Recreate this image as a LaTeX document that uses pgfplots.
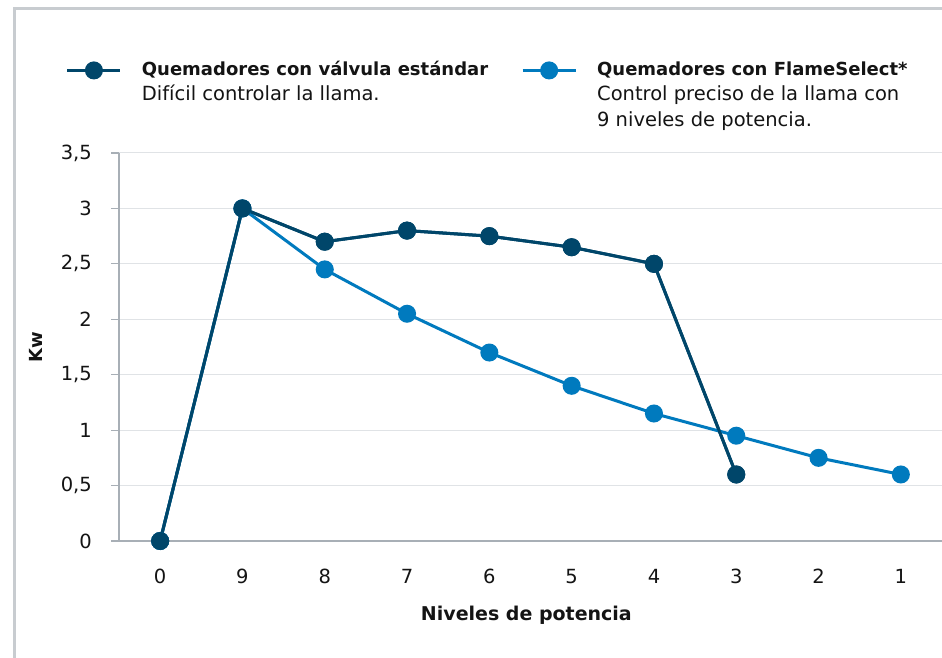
\documentclass[border=0pt]{standalone}
\usepackage{pgfplots}
\pgfplotsset{compat=1.18}
\usepackage{fontspec}
\setmainfont{DejaVu Sans}
\definecolor{darkS}{RGB}{0,70,106}
\definecolor{lightS}{RGB}{0,122,190}
\definecolor{framegray}{RGB}{200,204,208}
\definecolor{axisgray}{RGB}{168,175,182}
\definecolor{gridgray}{RGB}{224,227,230}
\definecolor{txt}{RGB}{20,20,20}
\begin{document}
\begin{tikzpicture}
\useasboundingbox (0,0) rectangle (942pt,658pt);
\fill[white] (0,0) rectangle (942pt,658pt);
\draw[framegray, line width=3pt] (14pt,0pt) -- (14pt,649.5pt) -- (942pt,649.5pt);
\begin{axis}[
  at={(119pt,117pt)}, anchor=south west, scale only axis,
  width=823pt, height=388pt,
  xmin=-0.5, xmax=9.5, ymin=0, ymax=3.5,
  clip=false,
  axis x line*=bottom, axis y line*=left,
  axis line style={axisgray, line width=1.2pt},
  xtick={0,1,2,3,4,5,6,7,8,9},
  xticklabels={0,9,8,7,6,5,4,3,2,1},
  ytick={0,0.5,1,1.5,2,2.5,3,3.5},
  tick align=outside, major tick length=8pt,
  xtick style={draw=none},
  ytick style={axisgray, line width=1.2pt},
  ymajorgrids, major grid style={gridgray, line width=1pt},
  /pgf/number format/assume math mode=true,
  /pgf/number format/use comma,
  ticklabel style={font=\fontsize{19.5}{23}\selectfont, text=txt},
  yticklabel style={inner sep=0pt, anchor=east, xshift=-19pt},
  xticklabel style={inner sep=0pt, anchor=north, yshift=-20pt},
  xlabel={Niveles de potencia},
  xlabel style={font=\fontsize{19}{23}\selectfont\bfseries, text=txt, at={(axis description cs:0.495,0)}, anchor=base, yshift=-80pt},
  ylabel={Kw},
  ylabel style={font=\fontsize{18}{21}\selectfont\bfseries, text=txt, at={(axis description cs:-0.1009,0.5)}, anchor=center, rotate=0},
  legend columns=2,
  legend style={draw=none, fill=none, at={(axis description cs:-0.0645,1.2459)}, anchor=north west,
    inner sep=0pt, outer sep=0pt, cells={anchor=base west}, nodes={inner sep=0pt, text=txt},
    /tikz/every odd column/.append style={column sep=20pt},
    /tikz/every even column/.append style={column sep=33pt}},
  legend image code/.code={\draw[mark repeat=2,mark phase=2,#1] plot coordinates {(0pt,5pt) (26.5pt,5pt) (53pt,5pt)};},
]
\addplot[darkS, line width=3pt, mark=*, mark size=7.5pt, mark options={solid, draw=none, fill=darkS}]
  coordinates {(0,0) (1,3) (2,2.7) (3,2.8) (4,2.75) (5,2.65) (6,2.5) (7,0.6)};
\addlegendentry{{\fontsize{19.5}{25.5}\selectfont\begin{tabular}[t]{@{}l@{}}\fontsize{18}{25.5}\selectfont\bfseries Quemadores con válvula estándar\\ Difícil controlar la llama.\end{tabular}}}
\addplot[lightS, line width=3pt, mark=*, mark size=7.5pt, mark options={solid, draw=none, fill=lightS}]
  coordinates {(0,0) (1,3) (2,2.45) (3,2.05) (4,1.7) (5,1.4) (6,1.15) (7,0.95) (8,0.75) (9,0.6)};
\addlegendentry{{\fontsize{19.5}{25.5}\selectfont\begin{tabular}[t]{@{}l@{}}\fontsize{18}{25.5}\selectfont\bfseries Quemadores con FlameSelect*\\ Control preciso de la llama con\\ 9 niveles de potencia.\end{tabular}}}
\addplot[darkS, line width=3pt, mark=*, mark size=7.5pt, mark options={solid, draw=none, fill=darkS}, forget plot]
  coordinates {(0,0) (1,3) (2,2.7) (3,2.8) (4,2.75) (5,2.65) (6,2.5) (7,0.6)};
\end{axis}
\end{tikzpicture}
\end{document}
